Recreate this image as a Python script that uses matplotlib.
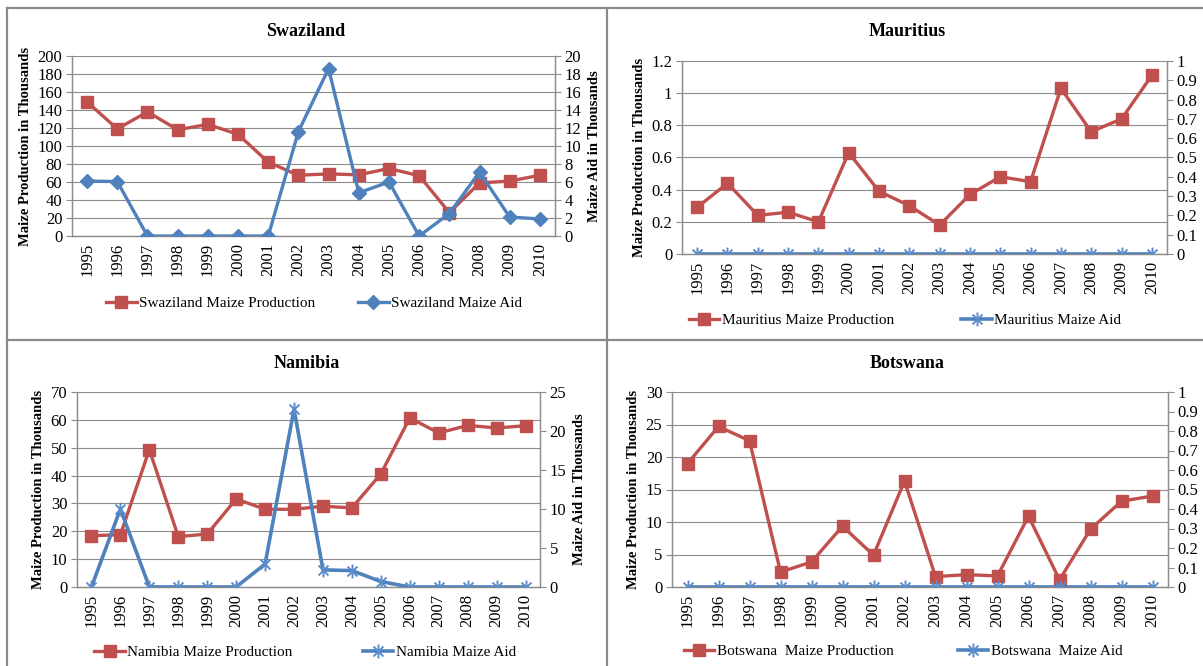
import matplotlib
matplotlib.use("Agg")
import matplotlib.pyplot as plt
from matplotlib.path import Path
from matplotlib.lines import Line2D
from matplotlib.ticker import MultipleLocator, FuncFormatter

plt.rcParams['font.family'] = ['Liberation Serif', 'DejaVu Serif']

years = [str(y) for y in range(1995, 2011)]

# Maize production / aid in thousands
swazi_prod = [149, 119, 138, 118, 124, 113, 82, 67.5, 69, 68, 75, 67, 26, 59, 61, 67.5]
swazi_aid = [6.1, 6.05, 0, 0, 0, 0, 0, 11.6, 18.6, 4.8, 6.0, 0, 2.5, 7.1, 2.1, 1.9]

maur_prod = [0.29, 0.44, 0.24, 0.26, 0.20, 0.63, 0.39, 0.30, 0.18, 0.37, 0.48, 0.45, 1.03, 0.76, 0.84, 1.11]
maur_aid = [0] * 16

nam_prod = [18.4, 18.8, 49.3, 18.1, 19.0, 31.6, 27.9, 27.9, 29.0, 28.4, 40.6, 60.7, 55.3, 58.0, 57.1, 57.9]
nam_aid = [0, 10.0, 0, 0, 0, 0, 2.95, 22.8, 2.2, 2.1, 0.7, 0, 0, 0, 0, 0]

bots_prod = [19.0, 24.7, 22.5, 2.3, 3.85, 9.35, 4.9, 16.3, 1.6, 1.9, 1.7, 10.9, 1.1, 8.9, 13.2, 14.0]
bots_aid = [0] * 16

RED = '#C0504D'
BLUE = '#4F81BD'
GRID = '#8c8c8c'
W, H = 1203, 666

# excel style asterisk: X plus vertical bar
star = Path([(-1, -1), (1, 1), (-1, 1), (1, -1), (0, -1.4), (0, 1.4)],
            [Path.MOVETO, Path.LINETO] * 3)

fmt = FuncFormatter(lambda v, p: f"{v:g}")

fig = plt.figure(figsize=(W / 100, H / 100), dpi=100)


def panel(box, title, title_xy, prod, aid, lmax, lstep, rmax, rstep, aid_marker,
          names, legend_xy, colspace, rlabel=True):
    left, top, right, bottom = box
    ax = fig.add_axes([left / W, 1 - bottom / H, (right - left) / W, (bottom - top) / H])
    ax2 = ax.twinx()
    x = range(len(years))

    l1, = ax.plot(x, prod, color=RED, lw=2.4, marker='s', ms=9, zorder=3)
    if aid_marker == 'D':
        l2, = ax2.plot(x, aid, color=BLUE, lw=2.4, marker='D', ms=7, zorder=3)
    else:
        l2, = ax2.plot(x, aid, color=BLUE, lw=2.6, marker=star, ms=10,
                       mfc='none', mec='#5b8ccc', mew=1.4, zorder=3)

    ax.set_xlim(-0.5, len(years) - 0.5)
    ax.set_ylim(0, lmax)
    ax2.set_ylim(0, rmax)
    ax.yaxis.set_major_locator(MultipleLocator(lstep))
    ax2.yaxis.set_major_locator(MultipleLocator(rstep))
    ax.yaxis.set_major_formatter(fmt)
    ax2.yaxis.set_major_formatter(fmt)

    ax.set_xticks(list(x))
    ax.set_xticklabels(years, rotation=90, fontsize=12)
    ax.tick_params(axis='x', length=0, pad=5)
    ax.tick_params(axis='y', length=4, color=GRID, labelsize=12, pad=3)
    ax2.tick_params(axis='y', length=4, color=GRID, labelsize=12, pad=3)

    ax.grid(axis='y', color=GRID, lw=0.8)
    ax.set_axisbelow(True)
    for a in (ax, ax2):
        a.spines['top'].set_visible(False)
        for s in ('left', 'right', 'bottom'):
            a.spines[s].set_color(GRID)
            a.spines[s].set_linewidth(0.9)

    ax.set_ylabel('Maize Production in Thousands', fontsize=10.5, fontweight='bold', labelpad=4)
    if rlabel:
        ax2.set_ylabel('Maize Aid in Thousands', fontsize=10.5, fontweight='bold', labelpad=5)

    fig.text(title_xy[0] / W, 1 - title_xy[1] / H, title, ha='center', va='center',
             fontsize=13, fontweight='bold')
    fig.legend([l1, l2], names, loc='center', ncol=2, frameon=False, fontsize=11,
               bbox_to_anchor=(legend_xy[0] / W, 1 - legend_xy[1] / H),
               bbox_transform=fig.transFigure, handlelength=2.0, handletextpad=0.15,
               columnspacing=colspace, borderaxespad=0)


panel((72, 56, 555, 236), 'Swaziland', (306, 31), swazi_prod, swazi_aid, 200, 20, 20, 2, 'D',
      ['Swaziland Maize Production', 'Swaziland Maize Aid'], (314, 303), 2.8)
panel((682, 61, 1167, 254), 'Mauritius', (907, 31), maur_prod, maur_aid, 1.2, 0.2, 1, 0.1, '*',
      ['Mauritius Maize Production', 'Mauritius Maize Aid'], (905, 320), 4.4, rlabel=False)
panel((77, 392, 540, 587), 'Namibia', (307, 363), nam_prod, nam_aid, 70, 10, 25, 5, '*',
      ['Namibia Maize Production', 'Namibia Maize Aid'], (305, 652), 4.6)
panel((672, 392, 1168, 587), 'Botswana', (907, 363), bots_prod, bots_aid, 30, 5, 1, 0.1, '*',
      ['Botswana  Maize Production', 'Botswana  Maize Aid'], (903, 651), 4.2, rlabel=False)

# panel borders
def border(x0, y0, x1, y1):
    fig.add_artist(Line2D([x0 / W, x1 / W], [1 - y0 / H, 1 - y1 / H],
                          transform=fig.transFigure, color='#8a8a8a', lw=1.6))


border(7, 8, W, 8)
border(7, 8, 7, H)
border(607, 8, 607, H)
border(7, 340, W, 340)

fig.savefig('out.png', dpi=100)
